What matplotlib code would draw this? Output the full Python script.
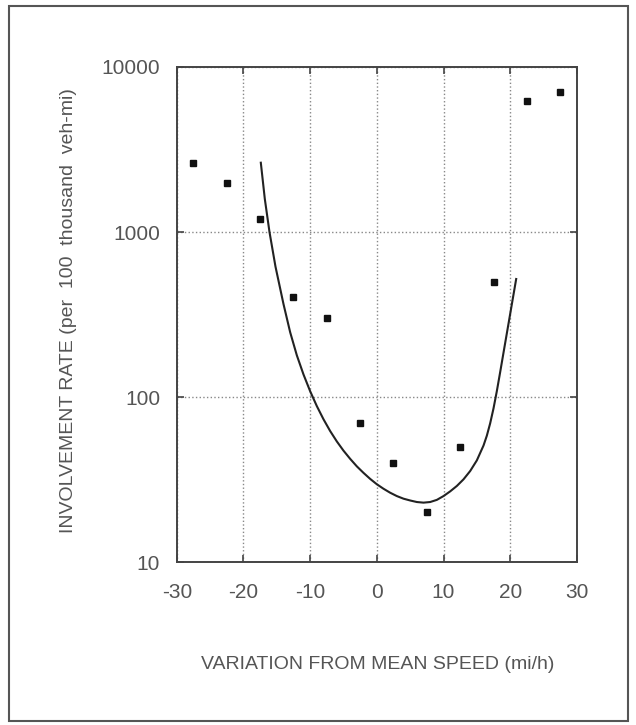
import numpy as np
import matplotlib
matplotlib.use('Agg')
import matplotlib.pyplot as plt
from matplotlib.patches import Rectangle
from matplotlib.ticker import FixedLocator, NullLocator

# Pontos observados (taxa de envolvimento por faixa de velocidade)
speed_var = [-27.5, -22.5, -17.5, -12.5, -7.5, -2.5, 2.5, 7.5, 12.5, 17.5, 22.5, 27.5]
rate = [2620, 1990, 1195, 402, 300, 70, 40, 20, 50, 500, 6200, 7100]

# Curva ajustada
curve_x = [-17.4, -16.8, -16.1, -15.2, -14, -13, -12, -11, -10, -9, -8, -7, -6, -5,
           -4, -3, -2, -1, 0, 1, 2, 3, 4, 5, 6, 7, 8, 9, 10, 11, 12, 13, 14, 15,
           16, 16.5, 17, 17.5, 18, 18.5, 19.1, 19.8, 20.4, 20.9]
curve_y = [2630, 1585, 1000, 617, 366, 247, 179, 137, 108.4, 88.1, 73.3, 62.2, 53.8, 47.3,
           42.2, 38.0, 34.7, 31.9, 29.6, 27.8, 26.3, 25.1, 24.2, 23.6, 23.1, 22.9, 23.1,
           23.8, 25.1, 26.8, 28.9, 31.7, 35.6, 41.3,
           50.8, 58.3, 69.3, 85.3, 108.6, 141.6, 196, 286, 396, 519]

x_ticks = [-30, -20, -10, 0, 10, 20, 30]
y_ticks = [10, 100, 1000, 10000]

text_color = '#555555'
plt.rcParams['font.family'] = ['Liberation Sans', 'DejaVu Sans']

fig = plt.figure(figsize=(6.36, 7.25), dpi=100)
ax = fig.add_axes([0.278, 0.2248, 0.629, 0.6828])

ax.plot(curve_x, curve_y, color='#222222', linewidth=1.5)
ax.plot(speed_var, rate, linestyle='none', marker='s', markersize=5,
        color='#111111')

ax.set_yscale('log')
ax.set_xlim(-30, 30)
ax.set_ylim(10, 10000)
ax.xaxis.set_major_locator(FixedLocator(x_ticks))
ax.yaxis.set_major_locator(FixedLocator(y_ticks))
ax.yaxis.set_minor_locator(NullLocator())
ax.set_xticklabels([str(v) for v in x_ticks])
ax.set_yticklabels([str(v) for v in y_ticks])

ax.grid(True, linestyle=':', color='#888888', linewidth=1.0)
ax.tick_params(direction='in', length=5, width=1.2, color='#444444',
               labelsize=15, labelcolor=text_color, pad=12,
               top=True, right=True)
ax.tick_params(axis='x', pad=15)
for spine in ax.spines.values():
    spine.set_color('#444444')
    spine.set_linewidth(1.4)

fig.text(0.594, 0.084, 'VARIATION FROM MEAN SPEED (mi/h)', ha='center',
         va='center', fontsize=14, color=text_color)
fig.text(0.107, 0.571, 'INVOLVEMENT RATE (per  100  thousand  veh-mi)',
         rotation=90, ha='center', va='center', fontsize=14, color=text_color)

# Moldura externa
fig.patches.append(Rectangle((0.014, 0.005), 0.973, 0.987, transform=fig.transFigure,
                             fill=False, edgecolor='#555555', linewidth=1.5))

plt.savefig('out.png', dpi=100)
plt.close()
